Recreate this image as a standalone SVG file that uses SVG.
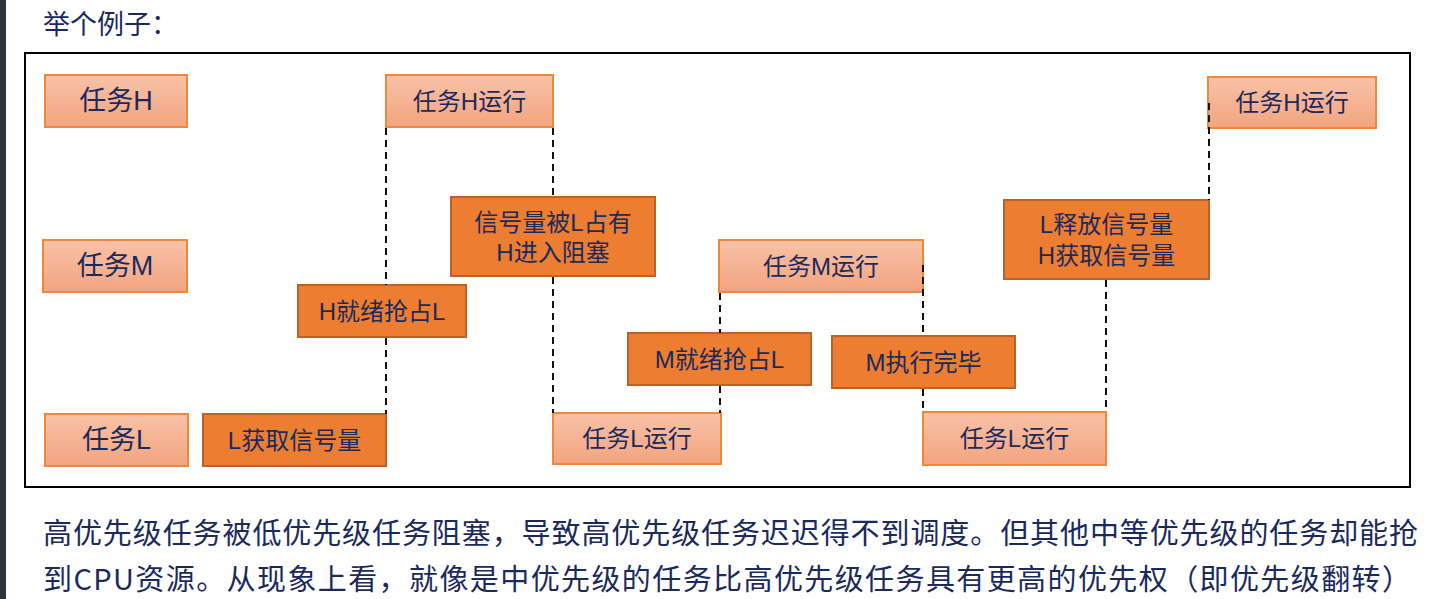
<svg xmlns="http://www.w3.org/2000/svg" width="1436" height="599" viewBox="0 0 1436 599">
<defs>
<linearGradient id="lg" x1="0" y1="0" x2="0" y2="1">
<stop offset="0" stop-color="#f8c2a7"/>
<stop offset="1" stop-color="#f2a47f"/>
</linearGradient>
<style>
.light{fill:url(#lg);stroke:#f0883c;stroke-width:2}
.dark{fill:#ed7d31;stroke:#b9632a;stroke-width:2}
.t{font-family:"Liberation Sans","Noto Sans CJK SC",sans-serif;fill:#1b2a5c;text-anchor:middle;dominant-baseline:central}
.lbl{font-size:27px}
.s{font-size:24px}
.para{font-family:"Noto Sans CJK SC",sans-serif;fill:#1b2a5c;dominant-baseline:central}
.dash{stroke:#111;stroke-width:2;stroke-dasharray:7 5;fill:none}
</style>
</defs>
<rect x="0" y="0" width="1436" height="599" fill="#ffffff"/>
<rect x="0" y="0" width="6" height="599" fill="#303336"/>
<text class="para" x="43" y="22.5" font-size="27">举个例子：</text>
<rect x="25" y="53" width="1385" height="434" fill="none" stroke="#000" stroke-width="2"/>

<g id="taskH"><rect class="light" x="45" y="75" width="142" height="52"/><text class="t lbl" x="116" y="101">任务H</text></g>
<g id="taskM"><rect class="light" x="43" y="240" width="144" height="52"/><text class="t lbl" x="115" y="266">任务M</text></g>
<g id="taskL"><rect class="light" x="45" y="414" width="143" height="52"/><text class="t lbl" x="116.5" y="440">任务L</text></g>

<g id="hRun1"><rect class="light" x="386" y="75" width="167" height="52"/><text class="t s" x="469.5" y="101">任务H运行</text></g>
<g id="semBlocked"><rect class="dark" x="451" y="197" width="204" height="79"/><text class="t s" x="553" y="222">信号量被L占有</text><text class="t s" x="553" y="252">H进入阻塞</text></g>
<g id="hPreempt"><rect class="dark" x="298" y="285" width="168" height="52"/><text class="t s" x="382" y="311">H就绪抢占L</text></g>
<g id="lAcquire"><rect class="dark" x="203" y="414" width="183" height="52"/><text class="t s" x="294.5" y="440">L获取信号量</text></g>
<g id="lRun1"><rect class="light" x="553" y="413" width="168" height="51"/><text class="t s" x="637" y="438.5">任务L运行</text></g>
<g id="mPreempt"><rect class="dark" x="628" y="333" width="183" height="52"/><text class="t s" x="719.5" y="359">M就绪抢占L</text></g>
<g id="mRun"><rect class="light" x="719" y="240" width="204" height="52"/><text class="t s" x="821" y="266">任务M运行</text></g>
<g id="mDone"><rect class="dark" x="832" y="336" width="183" height="52"/><text class="t s" x="923.5" y="362">M执行完毕</text></g>
<g id="lRun2"><rect class="light" x="923" y="412" width="183" height="53"/><text class="t s" x="1014.5" y="438.5">任务L运行</text></g>
<g id="lRelease"><rect class="dark" x="1004" y="200" width="205" height="79"/><text class="t s" x="1106.5" y="224">L释放信号量</text><text class="t s" x="1106.5" y="255">H获取信号量</text></g>
<g id="hRun2"><rect class="light" x="1208" y="77" width="168" height="51"/><text class="t s" x="1292" y="102.5">任务H运行</text></g>

<g id="connectors">
<line class="dash" x1="386" y1="128" x2="386" y2="285"/>
<line class="dash" x1="386" y1="338" x2="386" y2="414"/>
<line class="dash" x1="553" y1="128" x2="553" y2="197"/>
<line class="dash" x1="553" y1="277" x2="553" y2="413"/>
<line class="dash" x1="720" y1="293" x2="720" y2="333"/>
<line class="dash" x1="720" y1="386" x2="720" y2="413"/>
<line class="dash" x1="923" y1="265" x2="923" y2="336"/>
<line class="dash" x1="923" y1="389" x2="923" y2="412"/>
<line class="dash" x1="1106" y1="280" x2="1106" y2="412"/>
<line class="dash" x1="1209" y1="103" x2="1209" y2="200"/>
</g>

<text class="para" x="43" y="531" font-size="29" textLength="1375" lengthAdjust="spacing">高优先级任务被低优先级任务阻塞，导致高优先级任务迟迟得不到调度。但其他中等优先级的任务却能抢</text>
<text class="para" x="43" y="577" font-size="29" textLength="1368" lengthAdjust="spacing">到CPU资源。从现象上看，就像是中优先级的任务比高优先级任务具有更高的优先权（即优先级翻转）</text>
</svg>
